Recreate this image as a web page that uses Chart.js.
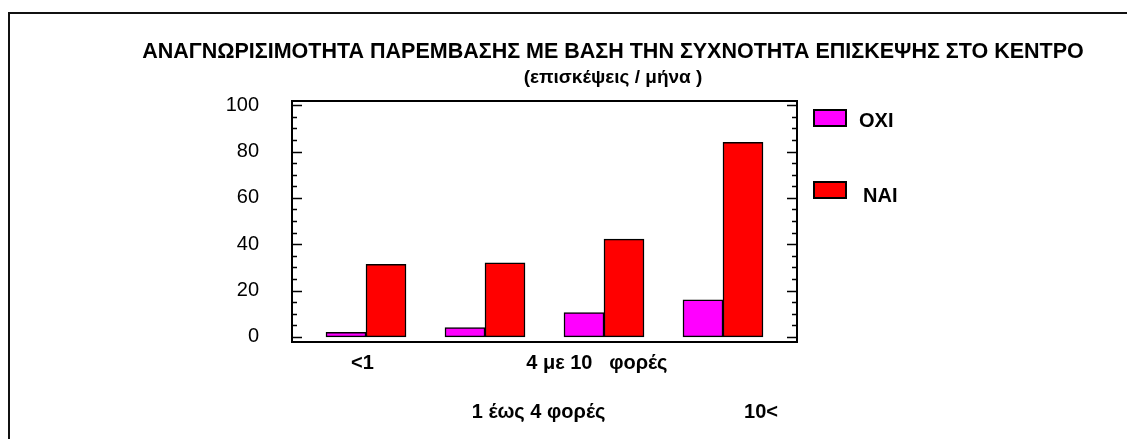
<!DOCTYPE html>
<html>
<head>
<meta charset="utf-8">
<script src="https://cdn.jsdelivr.net/npm/chart.js@4.4.1/dist/chart.umd.min.js"></script>
<style>
  html, body { margin: 0; padding: 0; background: #fff; overflow: hidden; }
  body { width: 1127px; height: 439px; position: relative; }
  /* outer frame of the original sheet: only its left and top edges are in view */
  .edge { position: absolute; background: #111; }
  #edgeLeft { left: 8px; top: 12px; width: 2px; height: 427px; }
  #edgeTop { left: 8px; top: 12px; width: 1119px; height: 2px; }
  #wrap { position: absolute; left: 103px; top: 0; width: 1020px; height: 439px; }
</style>
</head>
<body>
<div class="edge" id="edgeLeft"></div>
<div class="edge" id="edgeTop"></div>
<div id="wrap"><canvas id="chart" width="1020" height="439"></canvas></div>
<script>
const titleText = "ΑΝΑΓΝΩΡΙΣΙΜΟΤΗΤΑ ΠΑΡΕΜΒΑΣΗΣ ΜΕ ΒΑΣΗ ΤΗΝ ΣΥΧΝΟΤΗΤΑ ΕΠΙΣΚΕΨΗΣ ΣΤΟ ΚΕΝΤΡΟ";
const subtitleText = "(επισκέψεις / μήνα )";

const categories = ["<1", "1 έως 4 φορές", "4 με 10   φορές", "10<"];
const seriesNames = ["ΟΧΙ", "ΝΑΙ"];
const oxiValues = [2, 4, 10.5, 16];
const naiValues = [31.3, 32, 42.2, 84];
const yTickValues = [0, 20, 40, 60, 80, 100];

// the original staggers the category labels on two rows and shifts them off-centre
const labelSlots = [0.97, 2.45, 2.94, 4.32];
const labelRow = [0, 1, 0, 1];
const minorStep = 5;

Chart.defaults.color = "#000";
Chart.defaults.font.family = "'Liberation Sans', Arial, sans-serif";

const toPoints = vals => vals.map((v, i) => ({ x: i + 1, y: v }));

// plot box, inward ticks on both sides, and the legend at the right
const plotDecor = {
    id: "plotDecor",
    afterDraw(chart) {
        const { ctx, chartArea: a } = chart;
        const y = chart.scales.y;
        ctx.save();
        ctx.strokeStyle = "#000";
        ctx.lineWidth = 2;
        ctx.strokeRect(a.left, a.top, a.right - a.left, a.bottom - a.top);

        ctx.lineWidth = 1.5;
        ctx.beginPath();
        for (let v = 0; v <= 100; v += minorStep) {
            const py = Math.round(y.getPixelForValue(v)) + 0.5;
            const len = v % 20 === 0 ? 10 : 5;
            ctx.moveTo(a.left, py);
            ctx.lineTo(a.left + len, py);
            ctx.moveTo(a.right - len, py);
            ctx.lineTo(a.right, py);
        }
        ctx.stroke();

        ctx.font = "bold 20px 'Liberation Sans', Arial";
        ctx.textBaseline = "middle";
        chart.data.datasets.forEach((ds, i) => {
            const bx = a.right + 17;
            const by = a.top + 9 + i * 72;
            ctx.fillStyle = ds.backgroundColor;
            ctx.fillRect(bx, by, 32, 16);
            ctx.lineWidth = 2;
            ctx.strokeRect(bx, by, 32, 16);
            ctx.fillStyle = "#000";
            ctx.fillText(ds.label, bx + 45 + i * 4, by + 11 + i * 3);
        });
        ctx.restore();
    }
};

const barConfig = {
    type: "bar",
    data: {
        datasets: [
            {
                label: seriesNames[0],
                data: toPoints(oxiValues),
                backgroundColor: "#ff00ff",
                borderColor: "#000",
                borderWidth: 1.5,
                borderSkipped: false,
            },
            {
                label: seriesNames[1],
                data: toPoints(naiValues),
                backgroundColor: "#ff0000",
                borderColor: "#000",
                borderWidth: 1.5,
                borderSkipped: false,
            },
        ],
    },
    options: {
        responsive: false,
        animation: false,
        barThickness: 40,
        layout: { padding: 0 },
        scales: {
            x: {
                type: "linear",
                offset: false,
                min: 0.378,
                max: 4.622,
                grid: { display: false, drawTicks: false, offset: false },
                border: { display: false },
                afterBuildTicks: s => { s.ticks = labelSlots.map(v => ({ value: v })); },
                afterFit: s => { s.height = 97; },
                ticks: {
                    autoSkip: false,
                    maxRotation: 0,
                    padding: -3,
                    font: { size: 20, weight: "bold", lineHeight: "49px" },
                    callback: (v, i) => labelRow[i] ? ["", categories[i]] : [categories[i]],
                },
            },
            y: {
                min: -2.2,
                max: 101.8,
                grid: { display: false, drawTicks: false },
                border: { display: false },
                afterBuildTicks: s => { s.ticks = yTickValues.map(v => ({ value: v })); },
                afterFit: s => { s.width = 189; },
                ticks: { padding: 33, font: { size: 20 } },
            },
            // empty right-hand box that leaves room for the legend
            y2: {
                position: "right",
                display: true,
                grid: { display: false, drawTicks: false },
                border: { display: false },
                ticks: { display: false },
                afterFit: s => { s.width = 326; },
            },
        },
        plugins: {
            legend: { display: false },
            tooltip: { enabled: false },
            title: {
                display: true,
                text: titleText,
                font: { size: 21.5, weight: "bold", lineHeight: "24px" },
                padding: { top: 40, bottom: 0 },
            },
            subtitle: {
                display: true,
                text: subtitleText,
                color: "#000",
                font: { size: 19, weight: "bold", lineHeight: "24px" },
                padding: { top: 2, bottom: 11 },
            },
        },
    },
    plugins: [plotDecor],
};

const barCtx = document.getElementById("chart");
window.myBar = new Chart(barCtx, barConfig);
</script>
</body>
</html>
